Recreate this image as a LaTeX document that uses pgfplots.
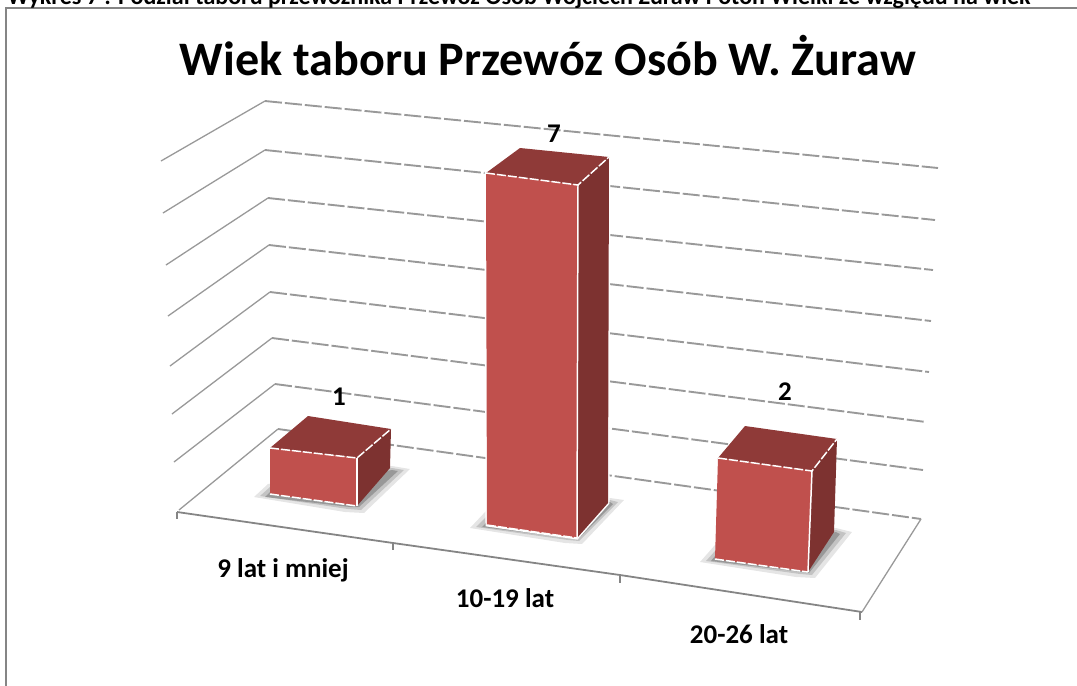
\documentclass[border=0pt]{standalone}
\usepackage{pgfplots}
\pgfplotsset{compat=1.18}
\usepackage{fontspec}
\setmainfont{Carlito}
\definecolor{frontc}{HTML}{C0504D}
\definecolor{topc}{HTML}{8F3A38}
\definecolor{sidec}{HTML}{7D3230}
\definecolor{gridc}{HTML}{999999}
\definecolor{framec}{HTML}{858585}
\tikzset{
  wall/.style={gridc, line width=1.3pt},
  back/.style={gridc, line width=1.9pt, dash pattern=on 17bp off 3bp},
  floorl/.style={framec, line width=1.8pt},
  lab/.style={font=\bfseries\fontsize{27bp}{29bp}\selectfont, text=black},
  edge/.style={white, line width=1.5pt, dash pattern=on 9bp off 2bp},
}

\begin{document}
\begin{tikzpicture}
\useasboundingbox (0,0) rectangle (1077bp,686bp);
\begin{axis}[
  at={(0,0)}, anchor=south west,
  x=1bp, y=1bp, scale only axis,
  xmin=0, xmax=1077, ymin=0, ymax=686,
  y dir=reverse,
  hide axis,
  clip=true,
  every axis plot/.append style={forget plot},
]
  % page frame
  \addplot[framec, line width=1.8pt] coordinates {(6,690)(6,8)(1080,8)};

  % walls, one line for each value level 1..7
  \addplot[wall] coordinates {(174,462)(275,384)};
  \addplot[wall] coordinates {(172,414)(272,338)};
  \addplot[wall] coordinates {(170,366)(270,292)};
  \addplot[wall] coordinates {(168,316)(269,245)};
  \addplot[wall] coordinates {(166,265)(268,198)};
  \addplot[wall] coordinates {(163,213)(265,150)};
  \addplot[wall] coordinates {(161,161)(265,101)};

  \addplot[back] coordinates {(278,429)(921,519)};
  \addplot[back] coordinates {(275,384)(923,470)};
  \addplot[back] coordinates {(272,338)(926,422)};
  \addplot[back] coordinates {(270,292)(929,372)};
  \addplot[back] coordinates {(269,245)(931,321)};
  \addplot[back] coordinates {(268,198)(933,270)};
  \addplot[back] coordinates {(265,150)(935,220)};
  \addplot[back] coordinates {(265,101)(938,168)};

  % floor
  \addplot[wall] coordinates {(278,429)(179,510)};
  \addplot[floorl] coordinates {(177,512)(393,543)(620,575)(862,612)};
  \addplot[wall] coordinates {(862,612)(921,519)};
  \addplot[floorl, line width=1.2pt] coordinates {(177,512)(177,519)};
  \addplot[floorl, line width=1.2pt] coordinates {(393,543)(393,550)};
  \addplot[floorl, line width=1.2pt] coordinates {(620,575)(620,583)};
  \addplot[floorl, line width=1.2pt] coordinates {(860,612)(860,620)};

  % shadows
  \addplot[draw=none, fill=black, fill opacity=0.10] coordinates {(254,497)(268,484)(392,466)(410,469)(364,513)(345,512)} --cycle;
  \addplot[draw=none, fill=black, fill opacity=0.15] coordinates {(260,496)(270,487)(392,468)(404,470)(361,510)(348,509)} --cycle;
  \addplot[draw=none, fill=black, fill opacity=0.22] coordinates {(265,497)(270,492)(392,470)(398,471)(359,507)(350,507)} --cycle;

  \addplot[draw=none, fill=black, fill opacity=0.10] coordinates {(470,528)(487,510)(610,498)(624,500)(582,544)(565,543)} --cycle;
  \addplot[draw=none, fill=black, fill opacity=0.15] coordinates {(476,527)(487,516)(610,500)(618,502)(579,541)(568,540)} --cycle;
  \addplot[draw=none, fill=black, fill opacity=0.22] coordinates {(482,527)(487,522)(610,502)(613,504)(578,539)(570,538)} --cycle;

  \addplot[draw=none, fill=black, fill opacity=0.10] coordinates {(700,562)(715,545)(836,528)(852,532)(815,578)(796,577)} --cycle;
  \addplot[draw=none, fill=black, fill opacity=0.15] coordinates {(706,561)(715,551)(836,530)(846,533)(812,575)(800,574)} --cycle;
  \addplot[draw=none, fill=black, fill opacity=0.22] coordinates {(711,561)(715,556)(836,532)(840,534)(809,573)(802,572)} --cycle;

  % bar 1: 9 lat i mniej = 1
  \addplot[draw=none, fill=topc] coordinates {(270,448)(308,416)(391,429)(357,458)} --cycle;
  \addplot[draw=none, fill=sidec] coordinates {(357,458)(391,429)(390,468)(357,506)} --cycle;
  \addplot[draw=none, fill=frontc] coordinates {(270,448)(357,458)(357,506)(270,494)} --cycle;
  \addplot[edge] coordinates {(270,448)(357,458)(391,429)};
  \addplot[edge] coordinates {(270,494)(357,506)};
  \addplot[white, line width=1.5pt] coordinates {(357,458)(357,506)};

  % bar 2: 10-19 lat = 7
  \addplot[draw=white, line width=3pt] coordinates {(486,173)(520,148)(609,157)(608,503)(577,538)(487,525)} --cycle;
  \addplot[draw=none, fill=topc] coordinates {(486,173)(520,148)(609,157)(578,185)} --cycle;
  \addplot[draw=none, fill=sidec] coordinates {(578,185)(609,157)(608,503)(577,538)} --cycle;
  \addplot[draw=none, fill=frontc] coordinates {(486,173)(578,185)(577,538)(487,525)} --cycle;
  \addplot[edge] coordinates {(486,173)(578,185)(609,157)};
  \addplot[edge] coordinates {(487,525)(577,538)};
  \addplot[white, line width=1.5pt] coordinates {(578,185)(577,538)};

  % bar 3: 20-26 lat = 2
  \addplot[draw=none, fill=topc] coordinates {(718,458)(745,426)(837,439)(812,471)} --cycle;
  \addplot[draw=none, fill=sidec] coordinates {(812,471)(837,439)(834,532)(808,572)} --cycle;
  \addplot[draw=none, fill=frontc] coordinates {(718,458)(812,471)(808,572)(715,559)} --cycle;
  \addplot[edge] coordinates {(718,458)(812,471)(837,439)};
  \addplot[edge] coordinates {(715,559)(808,572)};
  \addplot[white, line width=1.5pt] coordinates {(812,471)(808,572)};

  % texts
  \node[anchor=base, font=\bfseries\fontsize{24bp}{26bp}\selectfont] at (axis cs:519,4)
    {Wykres 7 : Podział taboru przewoźnika Przewóz Osób Wojciech Żuraw Potoń Wielki ze względu na wiek};
  \node[anchor=base, font=\bfseries\fontsize{48.1bp}{50bp}\selectfont] at (axis cs:548,75)
    {Wiek taboru Przewóz Osób W. Żuraw};
  \node[lab, anchor=base] at (axis cs:554,142) {7};
  \node[lab, anchor=base] at (axis cs:339,405) {1};
  \node[lab, anchor=base] at (axis cs:785,400) {2};
  \node[lab, anchor=base] at (axis cs:283,577) {9 lat i mniej};
  \node[lab, anchor=base] at (axis cs:505,607) {10-19 lat};
  \node[lab, anchor=base] at (axis cs:739,643) {20-26 lat};
\end{axis}
\end{tikzpicture}
\end{document}
